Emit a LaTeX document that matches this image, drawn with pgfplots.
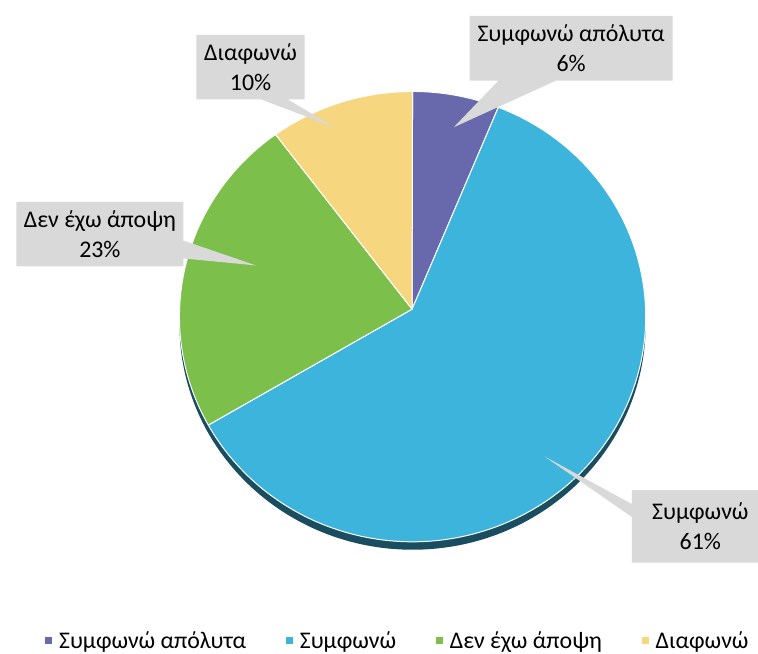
\documentclass[border=0pt]{standalone}
\usepackage{fontspec}
\setmainfont{Carlito}
\usepackage{pgfplots}
\usepackage{pgfplotstable}
\pgfplotsset{compat=1.18}

\definecolor{pie0}{HTML}{6868AC}
\definecolor{pie1}{HTML}{3DB4DB}
\definecolor{pie2}{HTML}{7CBF4A}
\definecolor{pie3}{HTML}{F6D67E}
\definecolor{pieshadow}{HTML}{1A4D5F}
\definecolor{callgray}{HTML}{D9D9D9}

% shares in percent, clockwise from 12 o'clock
\pgfplotstableread[col sep=comma]{
label,value
Συμφωνώ απόλυτα,6
Συμφωνώ,61
Δεν έχω άποψη,23
Διαφωνώ,10
}\piedata

\newcommand{\lblfont}{\fontsize{24}{30}\selectfont}

\begin{document}
% start / end angle of each slice
\def\cumang{90}
\pgfplotsforeachungrouped \i in {0,...,3}{%
  \pgfplotstablegetelem{\i}{value}\of\piedata
  \pgfmathsetmacro{\endang}{\cumang-3.6*\pgfplotsretval}%
  \expandafter\xdef\csname pieS\i\endcsname{\cumang}%
  \expandafter\xdef\csname pieE\i\endcsname{\endang}%
  \xdef\cumang{\endang}%
}
\begin{tikzpicture}
\begin{axis}[
  scale only axis,
  width=758pt, height=657pt,
  xmin=0, xmax=758, ymin=0, ymax=657,
  hide axis, clip=false,
  legend columns=4,
  legend style={at={(0.522,0.019)}, anchor=center, draw=none, fill=none,
    font=\lblfont, /tikz/every even column/.append style={column sep=38pt}},
  legend image code/.code={\fill[#1, draw=none] (0pt,-3.5pt) rectangle (7pt,3.5pt);
    \path[draw=none, fill=none] (0pt,0pt) -- (12pt,0pt);},
]
\coordinate (SW) at (axis cs:0,0);
\coordinate (NE) at (axis cs:758,657);

% shadow under the pie
\fill[pieshadow] (axis cs:410.5,330.5) ellipse[x radius=234.5pt, y radius=226.5pt];

\pgfplotsinvokeforeach{0,...,3}{
  \fill[pie#1, draw=white, line width=1pt, line join=round]
    (axis cs:410,346) --
    ([shift={(\csname pieS#1\endcsname:234.5pt and 226.5pt)}]axis cs:410.5,338.5)
    arc[start angle=\csname pieS#1\endcsname, end angle=\csname pieE#1\endcsname,
        x radius=234.5pt, y radius=226.5pt] -- cycle;
}

% callouts
\fill[callgray] (axis cs:468,641) -- (axis cs:672,641) -- (axis cs:672,576)
  -- (axis cs:555,576) -- (axis cs:452,529) -- (axis cs:497,576)
  -- (axis cs:468,576) -- cycle;
\node[align=center, font=\lblfont] at (axis cs:570,608.5) {Συμφωνώ απόλυτα\\6\%};

\fill[callgray] (axis cs:193,622) -- (axis cs:302,622) -- (axis cs:302,557)
  -- (axis cs:285,557) -- (axis cs:332,529) -- (axis cs:258,557)
  -- (axis cs:193,557) -- cycle;
\node[align=center, font=\lblfont] at (axis cs:247.5,589.5) {Διαφωνώ\\10\%};

\fill[callgray] (axis cs:12,454) -- (axis cs:180,454) -- (axis cs:180,415)
  -- (axis cs:253,390) -- (axis cs:180,397) -- (axis cs:180,389)
  -- (axis cs:12,389) -- cycle;
\node[align=center, font=\lblfont] at (axis cs:96,421.5) {Δεν έχω άποψη\\23\%};

\fill[callgray] (axis cs:631,164) -- (axis cs:758,164) -- (axis cs:758,91)
  -- (axis cs:631,91) -- (axis cs:631,137) -- (axis cs:543,198)
  -- (axis cs:631,150) -- cycle;
\node[align=center, font=\lblfont] at (axis cs:700,127.5) {Συμφωνώ\\61\%};

\addlegendimage{fill=pie0}\addlegendentry{Συμφωνώ απόλυτα}
\addlegendimage{fill=pie1}\addlegendentry{Συμφωνώ}
\addlegendimage{fill=pie2}\addlegendentry{Δεν έχω άποψη}
\addlegendimage{fill=pie3}\addlegendentry{Διαφωνώ}
\end{axis}
\pgfresetboundingbox
\path[use as bounding box] (SW) rectangle (NE);
\end{tikzpicture}
\end{document}
